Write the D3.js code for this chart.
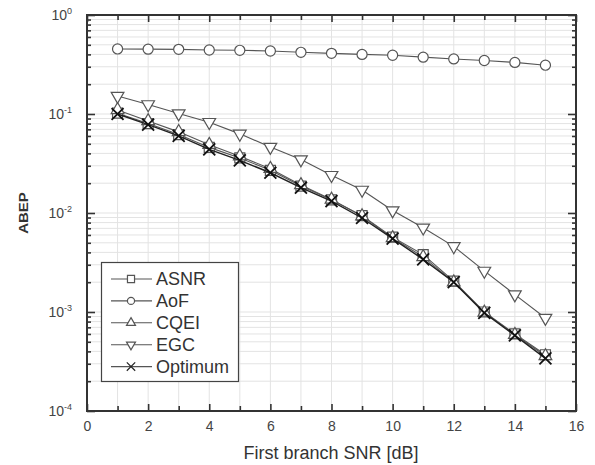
<!DOCTYPE html>
<html>
<head>
<meta charset="utf-8">
<script src="https://cdn.jsdelivr.net/npm/d3@7"></script>
<style>
  body { margin: 0; background: #fff; }
  svg { display: block; font-family: "Liberation Sans", Arial, sans-serif; }
</style>
</head>
<body>
<svg id="chart" width="595" height="465"></svg>
<script>
// x values (first branch SNR, dB)
const snr = [1, 2, 3, 4, 5, 6, 7, 8, 9, 10, 11, 12, 13, 14, 15];

// ABEP per scheme
const asnr = [0.102, 0.080, 0.062, 0.046, 0.036, 0.027, 0.0187, 0.0136, 0.0094, 0.0057, 0.0038, 0.00205, 0.00100, 0.00060, 0.00037];
const aof = [0.454, 0.452, 0.450, 0.443, 0.440, 0.433, 0.420, 0.410, 0.400, 0.392, 0.375, 0.360, 0.347, 0.332, 0.311];
const cqei = [0.110, 0.085, 0.066, 0.049, 0.0375, 0.028, 0.0192, 0.0137, 0.0093, 0.0056, 0.0036, 0.0020, 0.00099, 0.00059, 0.00036];
const egc = [0.152, 0.125, 0.101, 0.0827, 0.063, 0.0464, 0.0347, 0.0241, 0.0171, 0.0106, 0.0071, 0.0046, 0.0026, 0.0015, 0.00087];
const optimum = [0.100, 0.078, 0.060, 0.044, 0.034, 0.0255, 0.018, 0.0132, 0.0089, 0.0055, 0.0034, 0.0020, 0.00098, 0.00058, 0.00034];

const seriesNames = ["ASNR", "AoF", "CQEI", "EGC", "Optimum"];
const xTicks = [0, 2, 4, 6, 8, 10, 12, 14, 16];
const yDecades = [1e-4, 1e-3, 1e-2, 1e-1, 1];

const series = [
  { name: seriesNames[0], values: asnr, marker: "square" },
  { name: seriesNames[1], values: aof, marker: "circle" },
  { name: seriesNames[2], values: cqei, marker: "up" },
  { name: seriesNames[3], values: egc, marker: "down" },
  { name: seriesNames[4], values: optimum, marker: "x" }
];

const svg = d3.select("#chart");
const mLeft = 87, mRight = 576, mTop = 15, mBottom = 411;

const x = d3.scaleLinear().domain([0, 16]).range([mLeft, mRight]);
const y = d3.scaleLog().domain([1e-4, 1]).range([mBottom, mTop]);

const axisColor = "#333";
const gridColor = "#e3e3e3";

// minor log ticks
const yMinor = [];
for (let e = -4; e < 0; e++) {
  for (let m = 2; m <= 9; m++) yMinor.push(m * Math.pow(10, e));
}
const xMinor = d3.range(1, 16, 2);

// grid
const grid = svg.append("g").attr("class", "grid");
grid.selectAll(".gx").data(d3.range(1, 16)).join("line")
  .attr("x1", d => x(d)).attr("x2", d => x(d))
  .attr("y1", mTop).attr("y2", mBottom)
  .attr("stroke", gridColor).attr("stroke-width", 1);
grid.selectAll(".gy").data(yMinor.concat(yDecades.slice(1, 4))).join("line")
  .attr("x1", mLeft).attr("x2", mRight)
  .attr("y1", d => y(d)).attr("y2", d => y(d))
  .attr("stroke", gridColor).attr("stroke-width", 1);

// axes (ticks pointing inward)
function styleAxis(g) {
  g.select(".domain").remove();
  g.selectAll(".tick line").attr("stroke", axisColor).attr("stroke-width", 1.6);
  g.selectAll(".tick text").attr("fill", "#444").style("font-size", "14px");
}

svg.append("g").attr("transform", `translate(0,${mBottom})`)
  .call(d3.axisBottom(x).tickValues(xTicks).tickSizeInner(-7).tickPadding(10))
  .call(styleAxis);
svg.append("g").attr("transform", `translate(0,${mBottom})`)
  .call(d3.axisBottom(x).tickValues(xMinor).tickSizeInner(-5).tickFormat(""))
  .call(styleAxis);
svg.append("g").attr("transform", `translate(0,${mTop})`)
  .call(d3.axisTop(x).tickValues(xTicks).tickSizeInner(-7).tickFormat(""))
  .call(styleAxis);
svg.append("g").attr("transform", `translate(0,${mTop})`)
  .call(d3.axisTop(x).tickValues(xMinor).tickSizeInner(-5).tickFormat(""))
  .call(styleAxis);

svg.append("g").attr("transform", `translate(${mLeft},0)`)
  .call(d3.axisLeft(y).tickValues(yDecades).tickSizeInner(-8).tickFormat(""))
  .call(styleAxis);
svg.append("g").attr("transform", `translate(${mLeft},0)`)
  .call(d3.axisLeft(y).tickValues(yMinor).tickSizeInner(-4).tickFormat(""))
  .call(styleAxis);
svg.append("g").attr("transform", `translate(${mRight},0)`)
  .call(d3.axisRight(y).tickValues(yDecades).tickSizeInner(-8).tickFormat(""))
  .call(styleAxis);
svg.append("g").attr("transform", `translate(${mRight},0)`)
  .call(d3.axisRight(y).tickValues(yMinor).tickSizeInner(-4).tickFormat(""))
  .call(styleAxis);

// y decade labels 10^n
const yl = svg.append("g").selectAll("text").data(yDecades).join("text")
  .attr("x", mLeft - 15).attr("y", d => y(d) + 5)
  .attr("text-anchor", "end").attr("fill", "#444").style("font-size", "14px");
yl.append("tspan").text("10");
yl.append("tspan").attr("dy", -6).style("font-size", "9px")
  .text(d => String(Math.round(Math.log10(d))));

// frame
svg.append("rect").attr("x", mLeft).attr("y", mTop)
  .attr("width", mRight - mLeft).attr("height", mBottom - mTop)
  .attr("fill", "none").attr("stroke", axisColor).attr("stroke-width", 2);

// axis titles
svg.append("text").attr("x", 331).attr("y", 459)
  .attr("text-anchor", "middle").attr("fill", "#333").style("font-size", "18px")
  .text("First branch SNR [dB]");
svg.append("text").attr("transform", `translate(28,213) rotate(-90) scale(1,0.85)`)
  .attr("text-anchor", "middle").attr("fill", "#333").style("font-size", "15px")
  .style("font-weight", "bold").text("ABEP");

// markers
function markerPath(type, s) {
  switch (type) {
    case "square": return d3.symbol(d3.symbolSquare, 100 * s)();
    case "circle": return d3.symbol(d3.symbolCircle, 80 * s)();
    case "up": return d3.symbol(d3.symbolTriangle, 70 * s)();
    case "down": return d3.symbol(d3.symbolTriangle, 70 * s)();
    case "x": return d3.symbol(d3.symbolTimes || d3.symbolX, 95 * s)();
  }
}

const line = d3.line().x(d => x(d[0])).y(d => y(d[1]));

series.forEach(sr => {
  const pts = snr.map((v, i) => [v, sr.values[i]]);
  const dark = sr.marker === "x";
  svg.append("path").datum(pts)
    .attr("d", line).attr("fill", "none")
    .attr("stroke", dark ? "#222" : "#555").attr("stroke-width", dark ? 1.4 : 1.1);
  svg.append("g").selectAll("path").data(pts).join("path")
    .attr("transform", d => `translate(${x(d[0])},${y(d[1])})` + (sr.marker === "down" ? " rotate(180)" : ""))
    .attr("d", markerPath(sr.marker, 1))
    .attr("fill", dark ? "none" : "#fff")
    .attr("stroke", dark ? "#111" : "#555")
    .attr("stroke-width", dark ? 1.8 : 1.2);
});

// legend
const legend = svg.append("g");
legend.append("rect").attr("x", 101.5).attr("y", 262.5)
  .attr("width", 137).attr("height", 119)
  .attr("fill", "#fff").attr("stroke", "#444").attr("stroke-width", 1.2);
series.forEach((sr, i) => {
  const ly = 279 + i * 21.9;
  legend.append("line").attr("x1", 111).attr("x2", 152).attr("y1", ly).attr("y2", ly)
    .attr("stroke", "#555").attr("stroke-width", 1.1);
  legend.append("path")
    .attr("transform", `translate(131,${ly})` + (sr.marker === "down" ? " rotate(180)" : ""))
    .attr("d", markerPath(sr.marker, 0.5))
    .attr("fill", sr.marker === "x" ? "none" : "#fff")
    .attr("stroke", sr.marker === "x" ? "#222" : "#555").attr("stroke-width", 1.2);
  legend.append("text").attr("x", 156).attr("y", ly + 6.3)
    .attr("fill", "#333").style("font-size", "18px").text(sr.name);
});
</script>
</body>
</html>
